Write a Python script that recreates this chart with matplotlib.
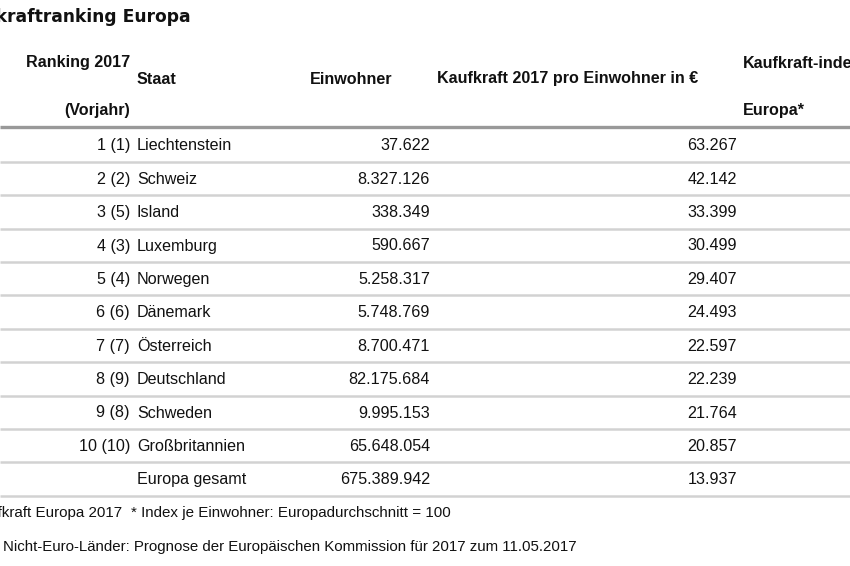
import matplotlib
matplotlib.use("Agg")
import matplotlib.pyplot as plt

plt.rcParams['font.family'] = ['Liberation Sans', 'DejaVu Sans']

title = "Kaufkraftranking Europa"
headers = ["Ranking 2017", "(Vorjahr)", "Staat", "Einwohner",
           "Kaufkraft 2017 pro Einwohner in €", "Kaufkraft-index", "Europa*"]
rank = [1, 2, 3, 4, 5, 6, 7, 8, 9, 10]
prev_rank = [1, 2, 5, 3, 4, 6, 7, 9, 8, 10]
countries = ["Liechtenstein", "Schweiz", "Island", "Luxemburg", "Norwegen",
             "Dänemark", "Österreich", "Deutschland", "Schweden", "Großbritannien"]
population = [37622, 8327126, 338349, 590667, 5258317, 5748769, 8700471,
              82175684, 9995153, 65648054]
kaufkraft = [63267, 42142, 33399, 30499, 29407, 24493, 22597, 22239, 21764, 20857]
total_label = "Europa gesamt"
total_population = 675389942
total_kaufkraft = 13937
footnote1_left = "Quelle: GfK Kaufkraft Europa 2017"
footnote1_right = "* Index je Einwohner: Europadurchschnitt = 100"
footnote2 = "Wechselkurse für Nicht-Euro-Länder: Prognose der Europäischen Kommission für 2017 zum 11.05.2017"


def de(n):
    return f"{n:,}".replace(",", ".")


W, H = 850, 566
fig = plt.figure(figsize=(W / 100, H / 100), dpi=100)
ax = fig.add_axes([0, 0, 1, 1])
ax.set_xlim(0, W)
ax.set_ylim(H, 0)
ax.axis('off')

txt = '#111111'
fs = 11.6
fsh = 11.6

ax.text(191, 17, title, ha='right', va='center', fontsize=12.3,
        fontweight='bold', color=txt, family=['DejaVu Sans'])

# header
ax.text(130, 63, headers[0], ha='right', va='center', fontsize=fsh, fontweight='bold', color=txt)
ax.text(130, 111, headers[1], ha='right', va='center', fontsize=fsh, fontweight='bold', color=txt)
ax.text(137, 79, headers[2], ha='left', va='center', fontsize=fsh, fontweight='bold', color=txt)
ax.text(392, 79, headers[3], ha='right', va='center', fontsize=fsh, fontweight='bold', color=txt)
ax.text(437, 79, headers[4], ha='left', va='center', fontsize=fsh, fontweight='bold', color=txt)
ax.text(743, 63, headers[5], ha='left', va='center', fontsize=fsh, fontweight='bold', color=txt)
ax.text(743, 111, headers[6], ha='left', va='center', fontsize=fsh, fontweight='bold', color=txt)

ax.plot([0, W], [127, 127], color='#999999', lw=2.4, solid_capstyle='butt')

y0 = 145.8
dy = 33.4
for i in range(len(rank)):
    y = y0 + i * dy
    ax.text(130, y, f"{rank[i]} ({prev_rank[i]})", ha='right', va='center', fontsize=fs, color=txt)
    ax.text(137, y, countries[i], ha='left', va='center', fontsize=fs, color=txt)
    ax.text(430, y, de(population[i]), ha='right', va='center', fontsize=fs, color=txt)
    ax.text(737, y, de(kaufkraft[i]), ha='right', va='center', fontsize=fs, color=txt)
    ax.plot([0, W], [y0 - 0.5 + i * dy + 16.5] * 2, color='#d2d2d2', lw=1.8, solid_capstyle='butt')

y = y0 + len(rank) * dy
ax.text(137, y, total_label, ha='left', va='center', fontsize=fs, color=txt)
ax.text(430, y, de(total_population), ha='right', va='center', fontsize=fs, color=txt)
ax.text(737, y, de(total_kaufkraft), ha='right', va='center', fontsize=fs, color=txt)
ax.plot([0, W], [y - 0.5 + 16.5] * 2, color='#d2d2d2', lw=1.8, solid_capstyle='butt')

ax.text(122, 512.5, footnote1_left, ha='right', va='center', fontsize=10.9, color=txt)
ax.text(131, 512.5, footnote1_right, ha='left', va='center', fontsize=10.9, color=txt)
ax.text(577, 546.5, footnote2, ha='right', va='center', fontsize=10.8, color=txt)

fig.savefig("out.png", dpi=100, facecolor='white')
